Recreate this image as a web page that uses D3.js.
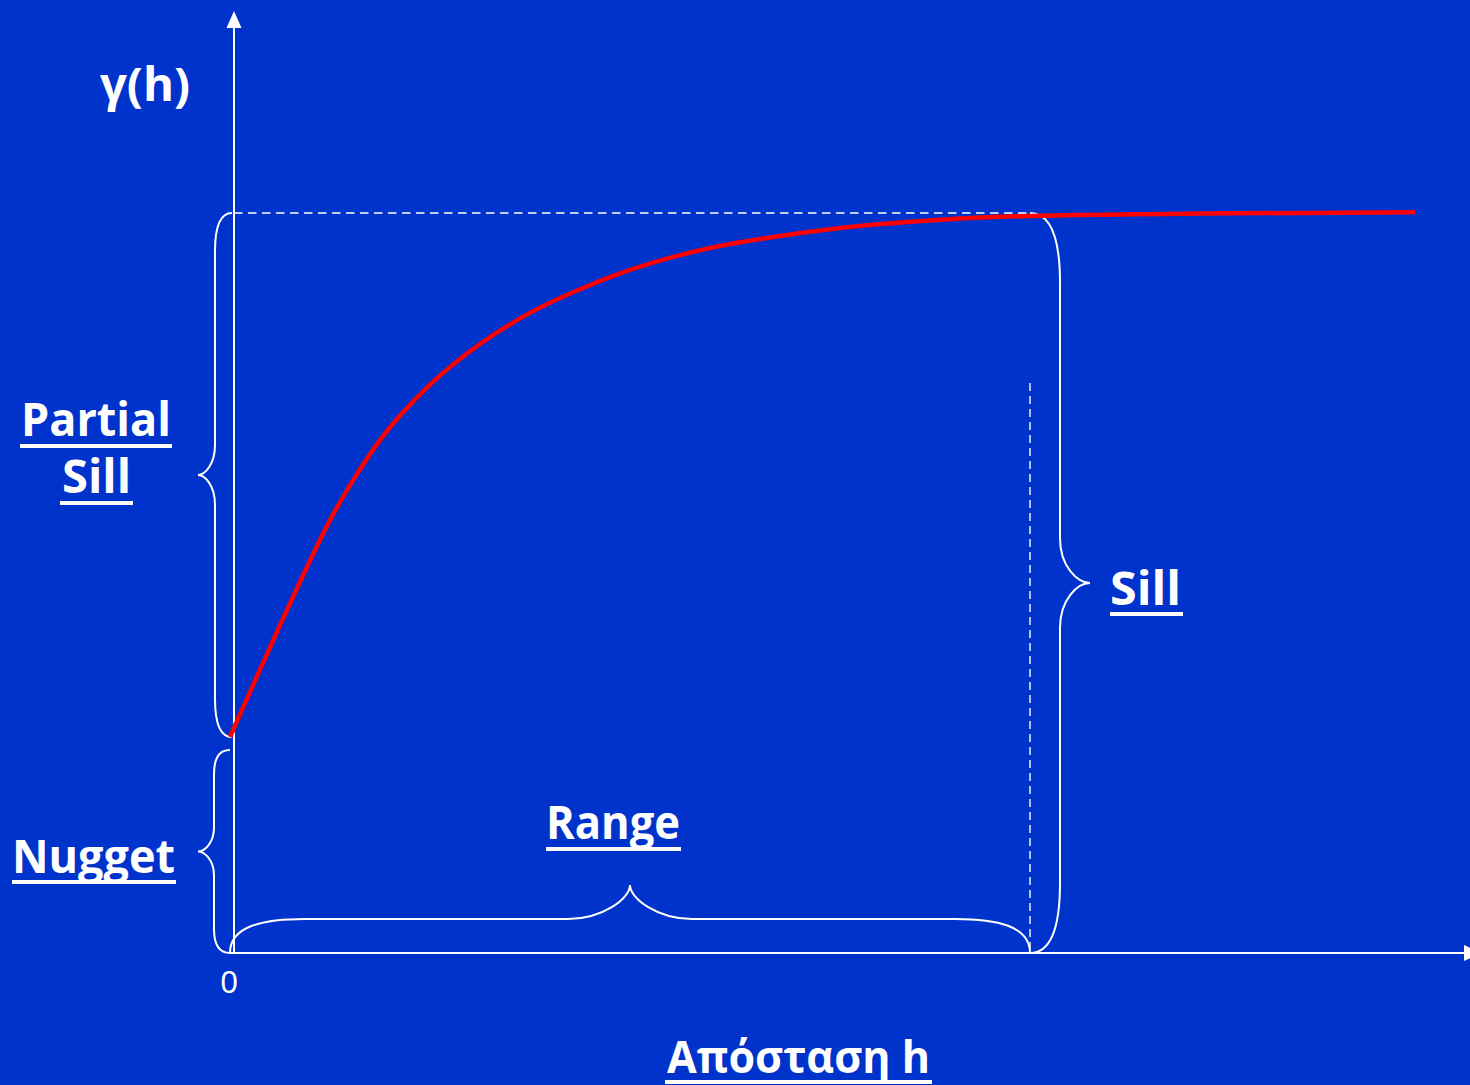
<!DOCTYPE html>
<html>
<head>
<meta charset="utf-8">
<script src="https://cdn.jsdelivr.net/npm/d3@7"></script>
<style>
  html, body { margin: 0; padding: 0; background: #0033CC; overflow: hidden; }
  svg { display: block; }
</style>
</head>
<body>
<svg id="chart" width="1470" height="1085"></svg>
<script>
// ---------------- DATA ----------------
const distance = [0, 0.25, 0.5, 0.75, 1, 1.25, 1.5, 2, 2.5, 3, 3.5, 4, 4.5, 5, 5.5, 6, 6.5, 7, 7.5, 8, 11.85];
const gamma    = [2.92, 3.68, 4.43, 5.16, 5.85, 6.43, 6.93, 7.68, 8.23, 8.65, 8.97, 9.23, 9.43, 9.58, 9.69, 9.78, 9.85, 9.9, 9.94, 9.96, 10.01];
const nugget = 2.92;
const sill = 10;
const range = 8;
const xTickLabels = ["0"];
const yAxisTitle = "γ(h)";
const xAxisTitle = "Απόσταση h";
const braceLabels = ["Partial", "Sill", "Nugget", "Range", "Sill"];

// ---------------- LAYOUT ----------------
const W = 1470, H = 1085;
const bg = "#0033CC";
const svg = d3.select("#chart");
svg.append("rect").attr("width", W).attr("height", H).attr("fill", bg);

const x = d3.scaleLinear().domain([0, range]).range([230, 1030]);
const y = d3.scaleLinear().domain([0, sill]).range([953, 213]);

const axisX = x(0) + 4;        // vertical axis position
const axisY = y(0);            // horizontal axis position
const white = "#FFFFFF";
const labelFont = "'Comic Sans MS', 'Open Sans', sans-serif";

// axes lines with arrowheads
svg.append("line").attr("x1", axisX).attr("x2", axisX).attr("y1", axisY).attr("y2", 24)
  .attr("stroke", white).attr("stroke-width", 2);
svg.append("path").attr("d", `M${axisX},11 L${axisX - 7.5},28 L${axisX + 7.5},28 Z`).attr("fill", white);

svg.append("line").attr("x1", x(0)).attr("x2", 1466).attr("y1", axisY).attr("y2", axisY)
  .attr("stroke", white).attr("stroke-width", 2);
svg.append("path").attr("d", `M1482,${axisY} L1464,${axisY - 8} L1464,${axisY + 8} Z`).attr("fill", white);

// tick label 0
svg.selectAll("text.tick").data(xTickLabels).join("text")
  .attr("class", "tick")
  .attr("x", d => x(+d) - 1).attr("y", 993)
  .attr("text-anchor", "middle")
  .attr("fill", white)
  .attr("font-family", "'Liberation Sans', Arial, sans-serif")
  .attr("font-size", 31)
  .text(d => d);

// dashed sill line & range line
svg.append("line").attr("x1", axisX).attr("x2", x(range)).attr("y1", y(sill)).attr("y2", y(sill))
  .attr("stroke", white).attr("stroke-width", 1.6).attr("stroke-dasharray", "8.5,5.5");
svg.append("line").attr("x1", x(range)).attr("x2", x(range)).attr("y1", 383).attr("y2", axisY)
  .attr("stroke", white).attr("stroke-width", 1.4).attr("stroke-dasharray", "8,5");

// ---------------- BRACES ----------------
function vBrace(x0, y0, y1, d, r0, r1, dir) {
  const s = dir || 1; // 1 => points left, -1 => points right
  const xv = x0 - s * d / 2, xt = x0 - s * d, ym = (y0 + y1) / 2;
  return `M${x0},${y0}` +
    ` C${x0 - s * d * 0.35},${y0} ${xv},${y0 + r0 * 0.35} ${xv},${y0 + r0}` +
    ` L${xv},${ym - r1}` +
    ` C${xv},${ym - r1 * 0.35} ${xt + s * d * 0.2},${ym} ${xt},${ym}` +
    ` C${xt + s * d * 0.2},${ym} ${xv},${ym + r1 * 0.35} ${xv},${ym + r1}` +
    ` L${xv},${y1 - r0}` +
    ` C${xv},${y1 - r0 * 0.35} ${x0 - s * d * 0.35},${y1} ${x0},${y1}`;
}
function hBrace(x0, x1, y0, h, r0, r1) {
  const yv = y0 - h / 2, yt = y0 - h, xm = (x0 + x1) / 2;
  return `M${x0},${y0}` +
    ` C${x0},${y0 - h * 0.4} ${x0 + r0 * 0.45},${yv} ${x0 + r0},${yv}` +
    ` L${xm - r1},${yv}` +
    ` C${xm - r1 * 0.45},${yv} ${xm},${yt + h * 0.2} ${xm},${yt}` +
    ` C${xm},${yt + h * 0.2} ${xm + r1 * 0.45},${yv} ${xm + r1},${yv}` +
    ` L${x1 - r0},${yv}` +
    ` C${x1 - r0 * 0.45},${yv} ${x1},${y0 - h * 0.4} ${x1},${y0}`;
}

const braceG = svg.append("g").attr("fill", "none").attr("stroke", white).attr("stroke-width", 2);
// partial sill brace
braceG.append("path").attr("d", vBrace(axisX - 2, y(sill), y(nugget), 34, 38, 30));
// nugget brace
braceG.append("path").attr("d", vBrace(axisX - 4, y(nugget) + 13, y(0), 32, 24, 24));
// sill brace (right of range line, pointing right)
braceG.append("path").attr("d", vBrace(x(range), y(sill), y(0), 60, 70, 45, -1));
// range brace
braceG.append("path").attr("d", hBrace(x(0), x(range), y(0), 68, 75, 62));

// ---------------- CURVE ----------------
const pts = distance.map((d, i) => [d, gamma[i]]);
const line = d3.line().x(d => x(d[0])).y(d => y(d[1])).curve(d3.curveMonotoneX);
svg.append("path").datum(pts).attr("d", line)
  .attr("fill", "none").attr("stroke", "#FF0000").attr("stroke-width", 4.5)
  .attr("stroke-linejoin", "round");

// ---------------- LABELS ----------------
function uLabel(txt, x0, base, width, size, underline) {
  const t = svg.append("text").attr("x", x0).attr("y", base)
    .attr("fill", white).attr("font-family", labelFont).attr("font-weight", "bold")
    .attr("font-size", size)
    .attr("textLength", width).attr("lengthAdjust", "spacingAndGlyphs")
    .text(txt);
  if (underline) {
    svg.append("rect").attr("x", underline[0]).attr("y", underline[1])
      .attr("width", underline[2]).attr("height", 4).attr("fill", white);
  }
  return t;
}

uLabel(yAxisTitle, 100, 101, 90, 46, null);
uLabel(braceLabels[0], 21, 436, 150, 46, [20, 444, 152]);
uLabel(braceLabels[1], 62, 493, 69, 46, [60, 501, 73]);
uLabel(braceLabels[2], 12, 873, 163, 46, [12, 880, 164]);
uLabel(braceLabels[3], 546, 839, 134, 46, [546, 847, 135]);
uLabel(braceLabels[4], 1110, 605, 71, 46, [1110, 612, 73]);
uLabel(xAxisTitle, 667, 1073, 263, 44, [665, 1080, 267]);
</script>
</body>
</html>
